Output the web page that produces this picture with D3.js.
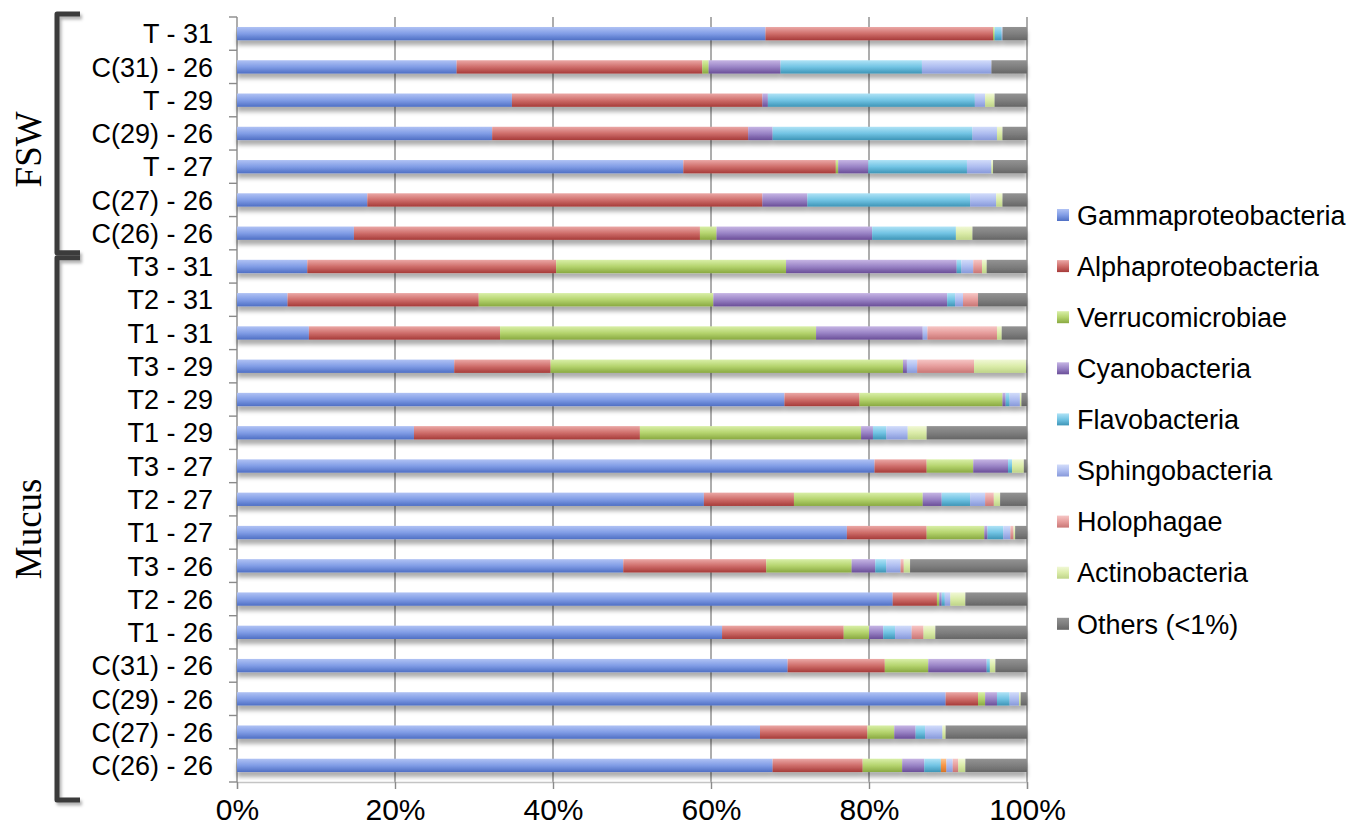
<!DOCTYPE html>
<meta charset="utf-8">
<script src="https://cdn.jsdelivr.net/npm/d3@7"></script>
<style>
  body { margin: 0; background: #fff; }
  text { fill: #000; }
</style>
<body>
<div id="viz"></div>
<script>
// rows, top to bottom
const categories = ["T - 31", "C(31) - 26", "T - 29", "C(29) - 26", "T - 27", "C(27) - 26", "C(26) - 26",
  "T3 - 31", "T2 - 31", "T1 - 31", "T3 - 29", "T2 - 29", "T1 - 29", "T3 - 27", "T2 - 27", "T1 - 27",
  "T3 - 26", "T2 - 26", "T1 - 26", "C(31) - 26", "C(29) - 26", "C(27) - 26", "C(26) - 26"];

const groupNames = ["FSW", "Mucus"];
const groupFirst = [0, 7];
const groupLast = [6, 22];

// percent of reads per class
const gamma   = [66.9, 27.8, 34.8, 32.3, 56.5, 16.5, 14.8, 8.9, 6.4, 9.1, 27.5, 69.3, 22.4, 80.7, 59.1, 77.2, 48.9, 83.0, 61.4, 69.7, 89.7, 66.2, 67.8];
const alpha   = [28.8, 31.1, 31.7, 32.4, 19.3, 50.0, 43.8, 31.5, 24.2, 24.2, 12.2, 9.5, 28.6, 6.6, 11.4, 10.1, 18.1, 5.6, 15.4, 12.3, 4.1, 13.6, 11.4];
const verruco = [0.2, 0.8, 0, 0, 0.3, 0, 2.1, 29.1, 29.7, 40.0, 44.6, 18.1, 28.0, 5.9, 16.3, 7.3, 10.8, 0.3, 3.2, 5.5, 0.9, 3.4, 5.0];
const cyano   = [0, 9.1, 0.7, 3.1, 3.8, 5.7, 19.7, 21.6, 29.6, 13.5, 0.5, 0.4, 1.5, 4.4, 2.4, 0.4, 3.0, 0.3, 1.8, 7.4, 1.5, 2.7, 2.8];
const flavo   = [0.9, 17.9, 26.2, 25.3, 12.5, 20.6, 10.6, 0.6, 1.0, 0, 0, 0.5, 1.7, 0.5, 3.6, 2.0, 1.4, 0.4, 1.5, 0.4, 1.6, 1.2, 2.1];
const unnamed = [0, 0, 0, 0, 0, 0, 0, 0, 0, 0, 0, 0, 0, 0, 0, 0, 0, 0, 0, 0, 0, 0, 0.7];
const sphingo = [0.1, 8.8, 1.3, 3.1, 3.1, 3.3, 0, 1.5, 1.0, 0.6, 1.3, 1.3, 2.7, 0, 1.9, 0.9, 1.8, 0.7, 2.1, 0, 1.2, 2.2, 0.8];
const holo    = [0, 0, 0, 0, 0, 0, 0, 1.1, 1.9, 8.8, 7.2, 0, 0, 0, 1.1, 0.4, 0.4, 0, 1.5, 0, 0, 0, 0.7];
const actino  = [0, 0, 1.2, 0.7, 0.2, 0.8, 2.1, 0.6, 0, 0.6, 6.6, 0.2, 2.4, 1.5, 0.8, 0.2, 0.8, 1.9, 1.5, 0.7, 0.2, 0.4, 0.9];
const others  = [3.1, 4.5, 4.1, 3.1, 4.3, 3.1, 6.9, 5.1, 6.2, 3.2, 0.1, 0.7, 12.7, 0.4, 3.4, 1.5, 14.8, 7.8, 11.6, 4.0, 0.8, 10.3, 7.8];

const seriesNames = ["Gammaproteobacteria", "Alphaproteobacteria", "Verrucomicrobiae", "Cyanobacteria",
  "Flavobacteria", "", "Sphingobacteria", "Holophagae", "Actinobacteria", "Others (<1%)"];
const seriesValues = [gamma, alpha, verruco, cyano, flavo, unnamed, sphingo, holo, actino, others];

const xTicks = [0, 20, 40, 60, 80, 100];

// top / middle / bottom shade of each series
const shades = [
  ["#b0c2f4", "#819de6", "#4f6fc4"],
  ["#eba8a6", "#cf6e6b", "#a63b39"],
  ["#d9efa8", "#b5d46e", "#89a941"],
  ["#c6b5e4", "#9a84c6", "#6a4e98"],
  ["#b0e3f6", "#72c4e4", "#3e95b7"],
  ["#fbc592", "#f79646", "#d4742a"],
  ["#d2dcfa", "#aebdf0", "#8799da"],
  ["#f6c6c5", "#e69d9c", "#c97675"],
  ["#f1f8d6", "#dbeca9", "#bed488"],
  ["#939393", "#7f7f7f", "#666666"]
];

const width = 1360, height = 833;
const plotLeft = 237, plotRight = 1027, plotTop = 17, plotBottom = 782;
const sans = "'Liberation Sans', Arial, sans-serif";

const svg = d3.select("#viz").append("svg")
  .attr("width", width)
  .attr("height", height);

const defs = svg.append("defs");
shades.forEach((s, i) => {
  const g = defs.append("linearGradient")
    .attr("id", "grad" + i)
    .attr("x1", 0).attr("y1", 0).attr("x2", 0).attr("y2", 1);
  g.append("stop").attr("offset", "0%").attr("stop-color", s[0]);
  g.append("stop").attr("offset", "50%").attr("stop-color", s[1]);
  g.append("stop").attr("offset", "100%").attr("stop-color", s[2]);
});
defs.append("filter").attr("id", "shadow")
  .attr("x", "-5%").attr("y", "-50%").attr("width", "110%").attr("height", "250%")
  .append("feDropShadow")
  .attr("dx", 0).attr("dy", 5).attr("stdDeviation", 2.2)
  .attr("flood-color", "#000").attr("flood-opacity", 0.32);
defs.append("filter").attr("id", "softshadow")
  .attr("x", "-50%").attr("y", "-10%").attr("width", "200%").attr("height", "120%")
  .append("feDropShadow")
  .attr("dx", 2).attr("dy", 3).attr("stdDeviation", 1.5)
  .attr("flood-color", "#000").attr("flood-opacity", 0.3);

const x = d3.scaleLinear().domain([0, 100]).range([plotLeft, plotRight]);
const y = d3.scaleBand()
  .domain(d3.range(categories.length))
  .range([plotTop, plotBottom])
  .paddingInner(0.6)
  .paddingOuter(0.3);
const step = y.step(), bw = y.bandwidth();
const boundary = i => y.range()[0] + i * step;   // edge between two rows

// grid
svg.append("g").selectAll("line")
  .data(xTicks.filter(t => t > 0))
  .enter().append("line")
  .attr("x1", d => x(d)).attr("x2", d => x(d))
  .attr("y1", plotTop).attr("y2", plotBottom)
  .attr("stroke", "#8a8a8a").attr("stroke-width", 1.4);

// x axis
const xAxis = svg.append("g")
  .attr("transform", `translate(0,${plotBottom})`)
  .call(d3.axisBottom(x).tickValues(xTicks).tickFormat(d => d + "%").tickSize(7).tickPadding(10));
xAxis.select(".domain").attr("stroke", "#c4c4c4").attr("stroke-width", 1.4);
xAxis.selectAll(".tick line").attr("stroke", "#8a8a8a").attr("stroke-width", 1.4);
xAxis.selectAll(".tick text")
  .style("font-family", sans).style("font-size", "30px")
  .attr("fill", "#000");

// y axis line and ticks at row edges
svg.append("line")
  .attr("x1", plotLeft).attr("x2", plotLeft)
  .attr("y1", plotTop).attr("y2", plotBottom)
  .attr("stroke", "#8a8a8a").attr("stroke-width", 1.4);
svg.append("g").selectAll("line")
  .data(d3.range(categories.length + 1))
  .enter().append("line")
  .attr("x1", plotLeft - 8).attr("x2", plotLeft)
  .attr("y1", d => boundary(d)).attr("y2", d => boundary(d))
  .attr("stroke", "#8a8a8a").attr("stroke-width", 1.4);

svg.append("g").selectAll("text")
  .data(categories)
  .enter().append("text")
  .attr("x", 213)
  .attr("y", (d, i) => y(i) + bw / 2)
  .attr("dy", "0.36em")
  .attr("text-anchor", "end")
  .style("font-family", sans).style("font-size", "27px")
  .text(d => d);

// stacked bars
const keys = d3.range(seriesValues.length);
const rows = categories.map((c, i) => {
  const r = { idx: i };
  keys.forEach(k => { r[k] = seriesValues[k][i]; });
  return r;
});
const stacked = d3.stack().keys(keys)(rows);

const bars = svg.append("g").attr("filter", "url(#shadow)");
bars.selectAll("g")
  .data(stacked)
  .enter().append("g")
  .attr("fill", d => `url(#grad${d.key})`)
  .selectAll("rect")
  .data(d => d.filter(p => p[1] - p[0] > 0))
  .enter().append("rect")
  .attr("x", d => x(d[0]))
  .attr("y", d => y(d.data.idx))
  .attr("width", d => x(d[1]) - x(d[0]))
  .attr("height", bw);

// legend
const legendItems = keys.filter(k => seriesNames[k] !== "");
const legend = svg.append("g").attr("transform", "translate(1057,215)");
const li = legend.selectAll("g")
  .data(legendItems)
  .enter().append("g")
  .attr("transform", (d, i) => `translate(0,${i * 51.1})`);
li.append("rect")
  .attr("x", 0).attr("y", -6)
  .attr("width", 12).attr("height", 12)
  .attr("fill", d => `url(#grad${d})`);
li.append("text")
  .attr("x", 20).attr("dy", "0.36em")
  .style("font-family", sans).style("font-size", "27px")
  .text(d => seriesNames[d]);

// group brackets
const brackets = svg.append("g").attr("filter", "url(#softshadow)");
groupNames.forEach((name, gi) => {
  const top = gi === 0 ? boundary(groupFirst[gi]) - 3 : boundary(groupFirst[gi]) + 8;
  const bot = gi === 0 ? boundary(groupLast[gi] + 1) + 3 : boundary(groupLast[gi] + 1) + 18;
  brackets.append("path")
    .attr("d", `M80,${top} L57,${top} L57,${bot} L80,${bot}`)
    .attr("fill", "none")
    .attr("stroke", "#3b3b3b")
    .attr("stroke-width", 5)
    .attr("stroke-linejoin", "round");
  const cy = gi === 0 ? (top + bot) / 2 + 16 : (top + bot) / 2;
  svg.append("text")
    .attr("transform", `translate(28,${cy}) rotate(-90)`)
    .attr("text-anchor", "middle")
    .attr("dy", "0.35em")
    .style("font-family", "'Liberation Serif', 'Times New Roman', serif")
    .style("font-size", "37px")
    .text(name);
});
</script>
